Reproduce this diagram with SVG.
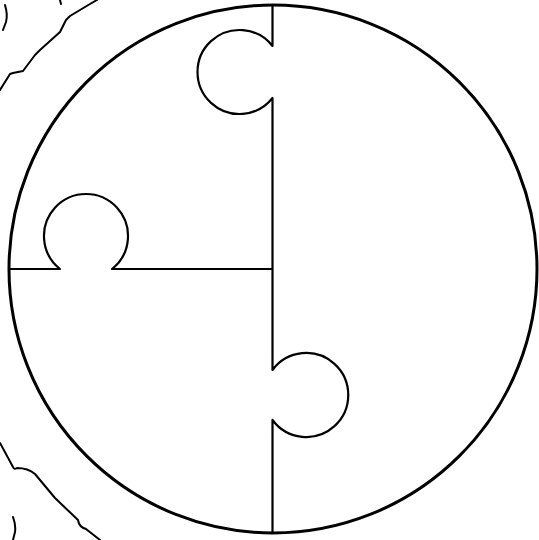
<svg xmlns="http://www.w3.org/2000/svg" width="539" height="540" viewBox="0 0 539 540">
<style>
.c{fill:none;stroke:#000;stroke-width:3}
.p{fill:none;stroke:#000;stroke-width:2.2;stroke-linejoin:round}
.s{fill:none;stroke:#000;stroke-width:2;stroke-linecap:round;stroke-linejoin:round}
</style>
<rect width="539" height="540" fill="#fff"/>
<g id="sketch">
<path class="s" d="M0,90 L10,74 L13,73 L23,71 L35,55 L40,50 L60,32 L66,20 L70,16 L90,4 L97,0"/>
<path class="s" d="M60,0 L61,4"/>
<path class="s" d="M5,5 Q8,15 6,22 L3,30"/>
<path class="s" d="M0,443 L13,467 Q14,470 17,468 Q28,468 35,474 L55,498 L78,520 Q79,527 86,529 L100,540"/>
<path class="s" d="M13,517 Q16,525 15,532 L13,540"/>
</g>
<g id="circle"><circle class="c" cx="273" cy="269" r="264"/></g>
<g id="pieces">
<path class="p" d="M272.5,5 L272.5,46 A42,42 0 1 0 272.5,98 L272.5,370 A42,42 0 1 1 272.5,420 L272.5,533"/>
<path class="p" d="M9,269 L60,269 A42,42 0 1 1 112,269 L272.5,269"/>
</g>
</svg>
